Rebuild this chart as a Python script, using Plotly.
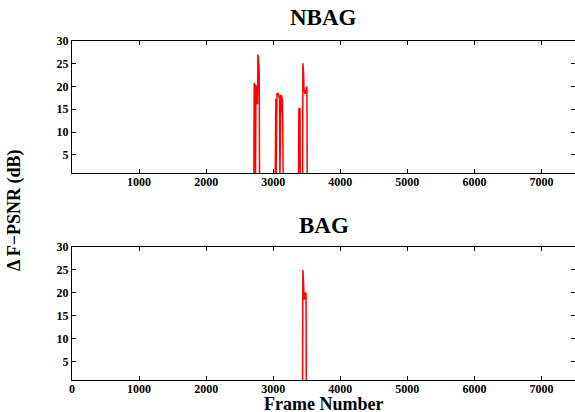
import plotly.graph_objects as go

# ---- data (frame number, delta F-PSNR in dB) ----
nbag_frames = [0, 2712, 2717, 2721, 2725, 2729, 2733, 2736, 2740, 2744, 2748, 2752, 2757,
               2762, 2767, 2772, 2777, 2782, 2788, 2792, 2796,
               3030, 3036, 3040, 3044, 3050, 3056, 3066, 3076, 3086, 3094, 3100, 3110, 3116,
               3122, 3127, 3132, 3137, 3142, 3149,
               3378, 3383, 3393, 3400, 3403,
               3438, 3443, 3448, 3453, 3458, 3465, 3472, 3480, 3488, 3496, 3503, 3507,
               7500]
nbag_values = [0, 0, 20.8, 20.0, 20.6, 19.8, 20.4, 0, 19.5, 20.3, 19.0, 17.6, 16.2,
               16.6, 16.3, 27.0, 26.6, 24.8, 25.0, 20.5, 0,
               0, 16.6, 17.3, 0, 17.8, 18.6, 18.2, 18.5, 17.6, 18.0, 0, 17.5, 18.2,
               17.2, 18.0, 14.5, 17.5, 13.3, 0,
               0, 15.2, 15.0, 15.2, 0,
               0, 25.1, 23.5, 22.9, 19.6, 19.2, 18.4, 19.1, 18.6, 20.0, 19.5, 0,
               0]

bag_frames = [0, 3438, 3443, 3448, 3453, 3458, 3465, 3470, 3478, 3485, 3490, 3493, 7500]
bag_values = [0, 0, 25.0, 23.9, 22.1, 19.2, 18.5, 19.0, 20.1, 19.7, 20.0, 0, 0]

top_x_ticks = [1000, 2000, 3000, 4000, 5000, 6000, 7000]
bottom_x_ticks = [0, 1000, 2000, 3000, 4000, 5000, 6000, 7000]
y_ticks = [5, 10, 15, 20, 25, 30]

FONT = "Liberation Serif, Times New Roman, serif"
tickfont = dict(family=FONT, size=12, color="black", weight="bold")

fig = go.Figure()
fig.add_trace(go.Scatter(x=nbag_frames, y=nbag_values, mode="lines",
                         line=dict(color="red", width=1.5), xaxis="x", yaxis="y",
                         showlegend=False, hoverinfo="skip"))
fig.add_trace(go.Scatter(x=bag_frames, y=bag_values, mode="lines",
                         line=dict(color="red", width=1.5), xaxis="x2", yaxis="y2",
                         showlegend=False, hoverinfo="skip"))

axis_common = dict(showline=True, linecolor="black", linewidth=1, mirror="ticks",
                   ticks="inside", ticklen=4, tickcolor="black", showgrid=False,
                   zeroline=False, tickfont=tickfont, automargin=False)

fig.update_layout(
    width=575, height=412,
    margin=dict(l=72, r=0, t=41, b=32, autoexpand=False),
    paper_bgcolor="white", plot_bgcolor="white",
    xaxis=dict(domain=[0, 1], range=[0, 7500], tickvals=top_x_ticks,
               anchor="y", ticklabelstandoff=-2, **axis_common),
    yaxis=dict(domain=[0.6106, 1], range=[1, 30], tickvals=y_ticks,
               anchor="x", **axis_common),
    xaxis2=dict(domain=[0, 1], range=[0, 7500], tickvals=bottom_x_ticks,
                anchor="y2", ticklabelstandoff=-2, **axis_common),
    yaxis2=dict(domain=[0, 0.3923], range=[1, 30], tickvals=y_ticks,
                anchor="x2", **axis_common),
    annotations=[
        dict(text="NBAG", x=0.5, y=1.068, xref="paper", yref="paper",
             showarrow=False, xanchor="center", yanchor="middle",
             font=dict(family=FONT, size=23, color="black", weight="bold")),
        dict(text="BAG", x=0.5, y=0.457, xref="paper", yref="paper",
             showarrow=False, xanchor="center", yanchor="middle",
             font=dict(family=FONT, size=23, color="black", weight="bold")),
        dict(text="Frame Number", x=0.5, y=-0.0708, xref="paper", yref="paper",
             showarrow=False, xanchor="center", yanchor="middle",
             font=dict(family=FONT, size=18, color="black", weight="bold")),
        dict(text="\u0394 F\u2212PSNR (dB)", x=0, y=0.5015, xref="paper", yref="paper",
             xshift=-57, showarrow=False, textangle=-90, xanchor="center", yanchor="middle",
             font=dict(family=FONT, size=18, color="black", weight="bold")),
    ],
)

fig.write_html("out.html", config={"displayModeBar": False},
               post_script="document.body.style.margin='0';document.body.style.overflow='hidden';")
